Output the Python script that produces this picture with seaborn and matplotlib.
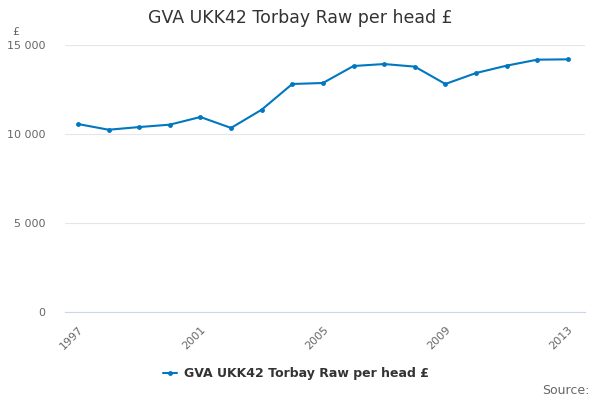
import pandas as pd
import matplotlib.pyplot as plt
import seaborn as sns

# Data
years = list(range(1997, 2014))
gva_per_head = [10560, 10240, 10390, 10525, 10955, 10340, 11365, 12810, 12865,
                13820, 13930, 13785, 12810, 13425, 13840, 14175, 14195]
series_name = "GVA UKK42 Torbay Raw per head £"

df = pd.DataFrame({"year": years, "value": gva_per_head})

sns.set_style("white")
plt.rcParams["font.family"] = ["DejaVu Sans"]

fig = plt.figure(figsize=(6, 4), dpi=100)
ax = fig.add_axes([0.108, 0.22, 0.867, 0.6675])

sns.lineplot(
    data=df,
    x="year",
    y="value",
    ax=ax,
    color="#0077c0",
    linewidth=1.5,
    marker="o",
    markersize=3.5,
    markeredgewidth=0,
    label=series_name,
)

ax.set_xlim(1996.57, 2013.56)
ax.set_ylim(0, 15000)
ax.set_yticks([0, 5000, 10000, 15000])
ax.set_yticklabels(["0", "5 000", "10 000", "15 000"])
ax.set_xticks(years)
ax.set_xticklabels([str(y) if (y - 1997) % 4 == 0 else "" for y in years],
                   rotation=45, ha="right", rotation_mode="anchor")
ax.grid(axis="y", color="#e6e6e6", linewidth=0.8)
ax.set_axisbelow(True)

for side in ["top", "right", "left"]:
    ax.spines[side].set_visible(False)
ax.spines["bottom"].set_color("#ccd6eb")
ax.tick_params(axis="x", length=8, color="#ccd6eb", colors="#666666",
               labelsize=8, pad=1)
ax.tick_params(axis="y", length=0, colors="#666666", labelsize=8, pad=14)
ax.set_xlabel("")
ax.set_ylabel("")

fig.text(0.5, 0.955, "GVA UKK42 Torbay Raw per head £", ha="center",
         va="center", fontsize=12.5, color="#333333")
fig.text(0.02, 0.92, "£", ha="left", va="center", fontsize=8, color="#666666")

ax.legend(loc="upper center", bbox_to_anchor=(0.445, -0.165), frameon=False,
          prop={"weight": "bold", "size": 9}, handlelength=1.1,
          handletextpad=0.6, labelcolor="#333333")
fig.text(0.983, 0.025, "Source:", ha="right", va="center", fontsize=9,
         color="#666666")

plt.savefig("out.png")
